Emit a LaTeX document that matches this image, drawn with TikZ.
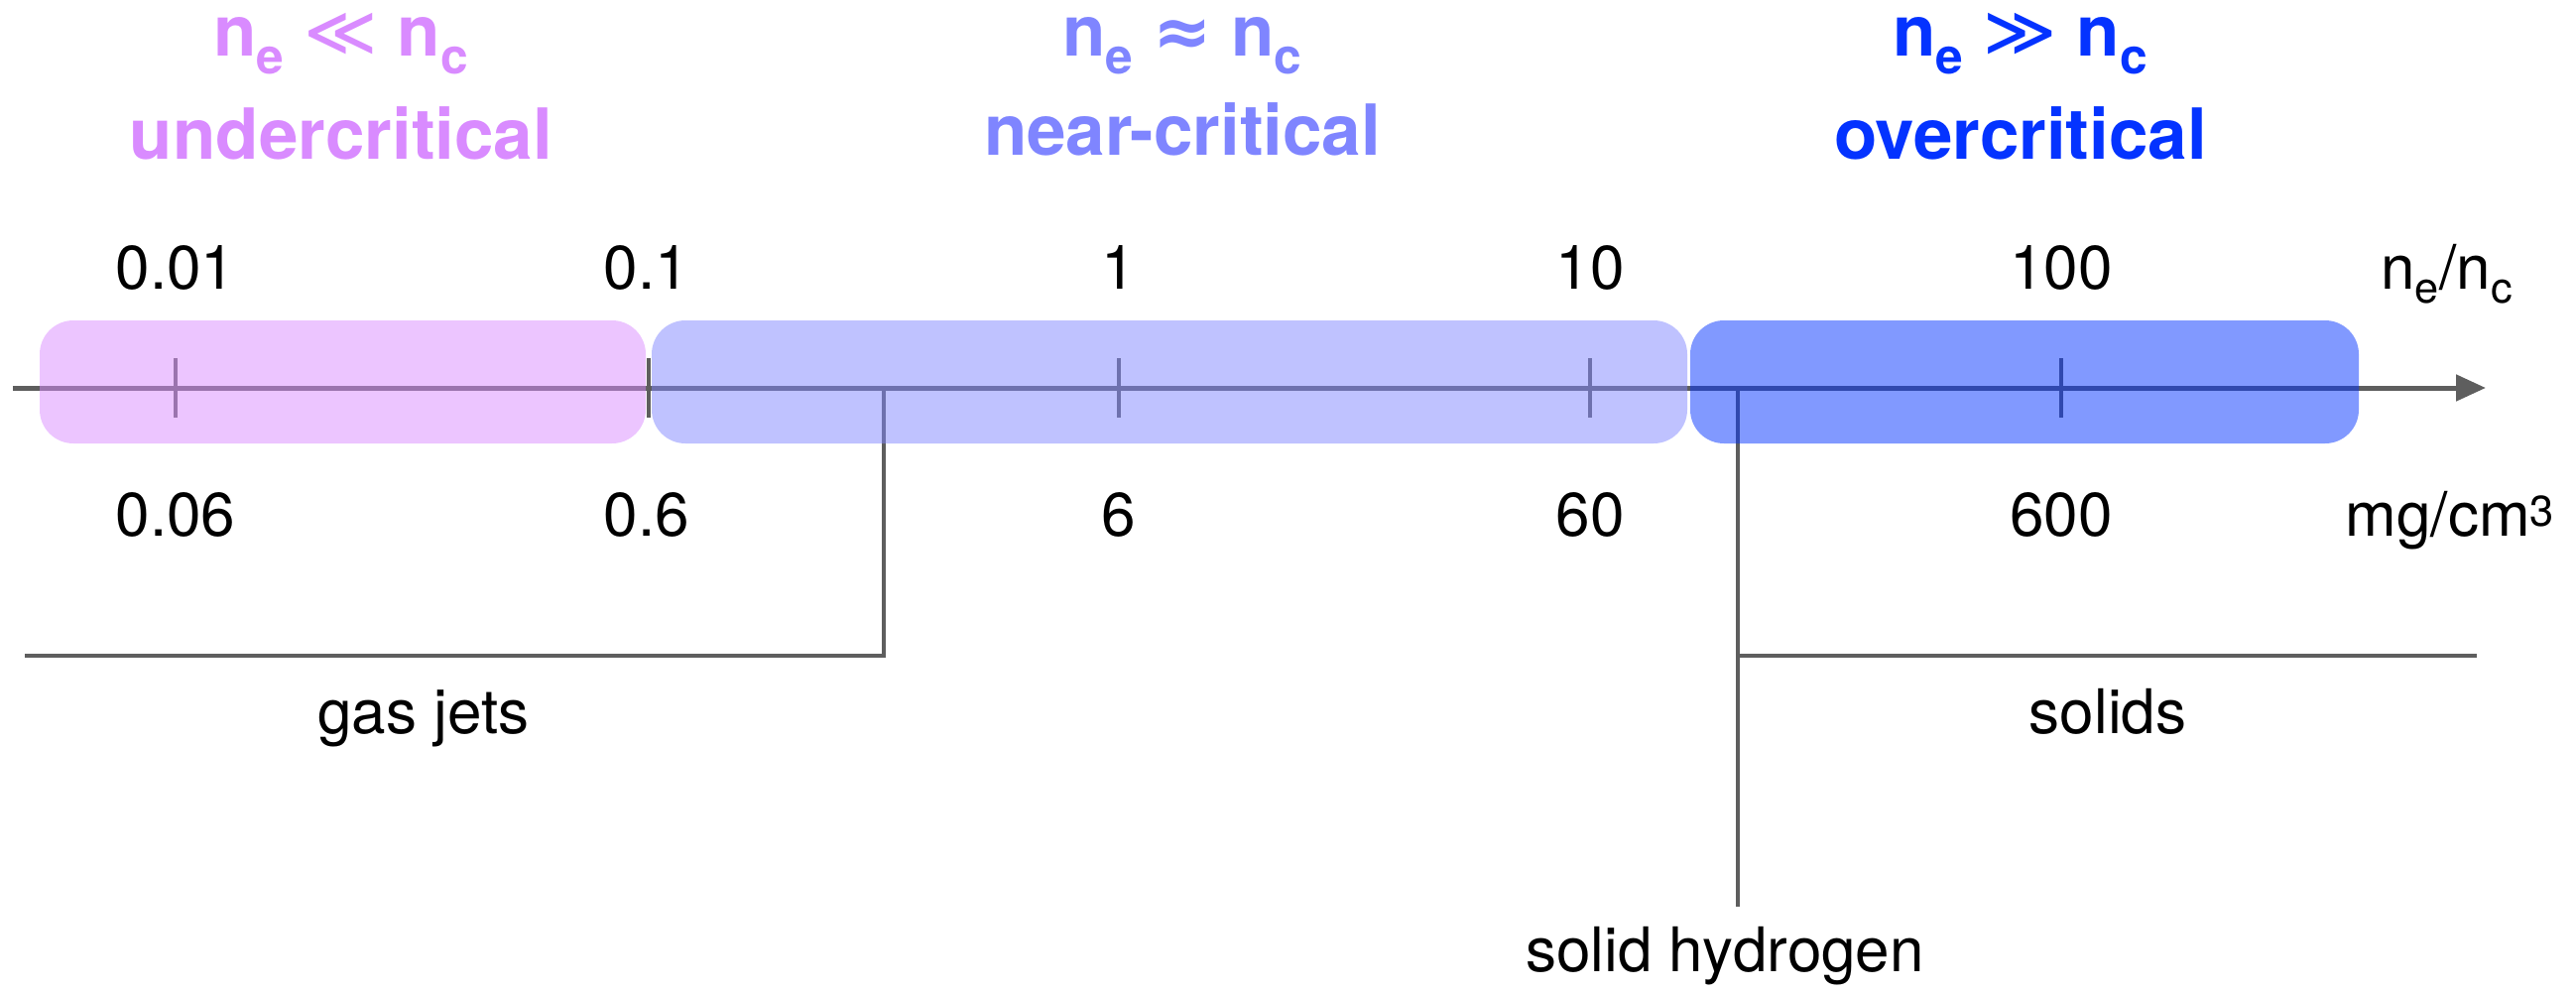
\documentclass[tikz,border=0pt]{standalone}
\usepackage{fontspec}
\setmainfont{TeX Gyre Heros}
\newfontfamily\symfont{DejaVu Sans}
\usetikzlibrary{arrows.meta}
\definecolor{cpink}{HTML}{D98BFF}
\definecolor{clav}{HTML}{7F85FF}
\definecolor{cblue}{HTML}{0433FF}
\definecolor{cgray}{HTML}{5E5E5E}
\tikzset{
  x=1pt,y=-1pt,
  lbl/.style={anchor=base,inner sep=0pt,font=\fontsize{62}{70}\selectfont},
  head/.style={anchor=base,inner sep=0pt,font=\fontsize{71}{80}\selectfont\bfseries},
  axisline/.style={draw=cgray,line width=5pt},
  tickline/.style={draw=cgray,line width=3.5pt},
  brack/.style={draw=cgray,line width=4pt},
  band/.style={rounded corners=34pt,fill opacity=0.5},
}
\begin{document}
\begin{tikzpicture}
\useasboundingbox (0,0) rectangle (2597,1001);
% headers
\node[head,text=cpink] (h1a) at (344,56) {n\textsubscript{e} {\symfont\mdseries ≪} n\textsubscript{c}};
\node[head,text=cpink] (h1b) at (344,160) {undercritical};
\node[head,text=clav] (h2a) at (1192,56) {n\textsubscript{e} {\symfont ≈} n\textsubscript{c}};
\node[head,text=clav] (h2b) at (1192,156) {near-critical};
\node[head,text=cblue] (h3a) at (2037,56) {n\textsubscript{e} {\symfont\mdseries ≫} n\textsubscript{c}};
\node[head,text=cblue] (h3b) at (2037,160) {overcritical};
% top labels
\node[lbl] (t1) at (177,291) {0.01};
\node[lbl] (t2) at (652,291) {0.1};
\node[lbl] (t3) at (1128,291) {1};
\node[lbl] (t4) at (1603,291) {10};
\node[lbl] (t5) at (2078,291) {100};
\node[lbl] (tu) at (2467,291) {n\textsubscript{e}/n\textsubscript{c}};
% bottom labels
\node[lbl] (b1) at (177,540) {0.06};
\node[lbl] (b2) at (652,540) {0.6};
\node[lbl] (b3) at (1128,540) {6};
\node[lbl] (b4) at (1603,540) {60};
\node[lbl] (b5) at (2078,540) {600};
\node[lbl] (bu) at (2470,540) {mg/cm\textsuperscript{3}};
% axis
\coordinate (ax0) at (13,391);
\coordinate (ax1) at (2506,391);
\draw[axisline,-{Triangle[length=30pt,width=26pt]}] (ax0) -- (ax1);
\foreach \x/\n in {177/k1,654/k2,1128/k3,1603/k4,2078/k5}{
  \coordinate (\n u) at (\x,361);
  \coordinate (\n d) at (\x,421);
  \draw[tickline] (\n u) -- (\n d);
}
% gas jets bracket
\coordinate (gtop) at (891,391);
\coordinate (gcorner) at (891,663);
\coordinate (gmid) at (891,661);
\coordinate (gleft) at (25,661);
\draw[brack] (gtop) -- (gcorner);
\draw[brack] (gmid) -- (gleft);
\node[lbl] (gas) at (427,739) {gas jets};
% solid hydrogen bracket
\coordinate (stop) at (1752,391);
\coordinate (sbot) at (1752,914);
\coordinate (sright) at (2497,661);
\coordinate (smid) at (1752,661);
\draw[brack] (stop) -- (sbot);
\draw[brack] (smid) -- (sright);
\node[lbl] (solids) at (2125,739) {solids};
\node[lbl] (sh) at (1739,979) {solid hydrogen};
% bands
\fill[band,cpink] (40,323) rectangle (651,447);
\fill[band,clav] (657,323) rectangle (1701,447);
\fill[band,cblue] (1704,323) rectangle (2378,447);
\end{tikzpicture}
\end{document}
